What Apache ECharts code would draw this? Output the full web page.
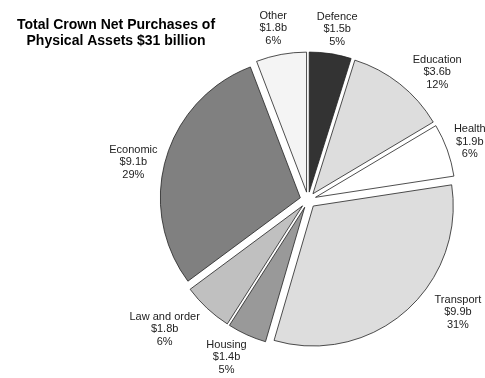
<!DOCTYPE html>
<html lang="en">

<head>
    <meta charset="UTF-8">
    <title>Crown Net Purchases</title>
    <script src="https://cdn.jsdelivr.net/npm/echarts@6/dist/echarts.min.js"></script>
</head>

<body style="margin:0">
    <div id="main" style="width: 485px;height:378px;"></div>
    <script type="text/javascript">
        // values, clockwise from 12 o'clock
        const categories = ['Defence', 'Education', 'Health', 'Transport', 'Housing', 'Law and order', 'Economic', 'Other'];
        const values = [1.5, 3.6, 1.9, 9.9, 1.4, 1.8, 9.1, 1.8];
        const pctLabels = ['5%', '12%', '6%', '31%', '5%', '6%', '29%', '6%'];

        // styling
        const colors = ['#333333', '#dddddd', '#ffffff', '#dddddd', '#999999', '#c0c0c0', '#808080', '#f4f4f4'];
        const labelGap = [6, 7, 7, 10, 8, 17, 6, 8];     // px between pie edge and label box
        const labelShift = [1, 7, 0, -12, 3, 5, -4, -1]; // degrees, label moved off the slice middle
        const CX = 308, CY = 200, R = 140, OFFSET = 8;

        const total = values.reduce((a, b) => a + b, 0);
        const before = values.map((v, i) => values.slice(0, i).reduce((a, b) => a + b, 0));

        let myChart = echarts.init(document.getElementById('main'));

        let options = {
            animation: false,
            title: {
                text: 'Total Crown Net Purchases of\nPhysical Assets $31 billion',
                left: 111,
                top: 12,
                textAlign: 'center',
                textStyle: {
                    fontFamily: 'Liberation Sans',
                    fontSize: 14,
                    fontWeight: 'bold',
                    lineHeight: 16,
                    color: '#000'
                }
            },
            series: [{
                type: 'pie',
                center: [CX, CY],
                radius: R,
                startAngle: 90,
                selectedMode: 'multiple',
                selectedOffset: OFFSET,
                avoidLabelOverlap: false,
                emphasis: { disabled: true },
                itemStyle: { borderColor: '#222', borderWidth: 0.8 },
                label: {
                    show: true,
                    position: 'outside',
                    distanceToLabelLine: 0,
                    fontFamily: 'Liberation Sans',
                    fontSize: 11,
                    lineHeight: 12.5,
                    color: '#222',
                    formatter: p => p.name + '\n$' + p.value + 'b\n' + pctLabels[p.dataIndex]
                },
                labelLine: { show: false, length: 0, length2: 0 },
                labelLayout: function (p) {
                    // echarts anchors the label on the slice rim; push the centered box out
                    // along the slice direction until it clears the pie
                    const i = p.dataIndex;
                    const mid = (before[i] + values[i] / 2) / total * 2 * Math.PI;
                    const ax = CX + (R + OFFSET) * Math.sin(mid);
                    const ay = CY - (R + OFFSET) * Math.cos(mid);
                    const t = mid + labelShift[i] * Math.PI / 180;
                    const sx = Math.sin(t), sy = -Math.cos(t);
                    const hw = p.labelRect.width / 2, hh = p.labelRect.height / 2;
                    const k = Math.min(hw / Math.max(Math.abs(sx), 1e-6), hh / Math.max(Math.abs(sy), 1e-6));
                    const d = R + OFFSET + labelGap[i] + k;
                    return {
                        dx: CX + d * sx - ax,
                        dy: CY + d * sy - ay,
                        align: 'center',
                        verticalAlign: 'middle'
                    };
                },
                data: categories.map((name, i) => ({
                    name: name,
                    value: values[i],
                    selected: true,
                    itemStyle: { color: colors[i] }
                }))
            }]
        };

        myChart.setOption(options);
    </script>
</body>

</html>
